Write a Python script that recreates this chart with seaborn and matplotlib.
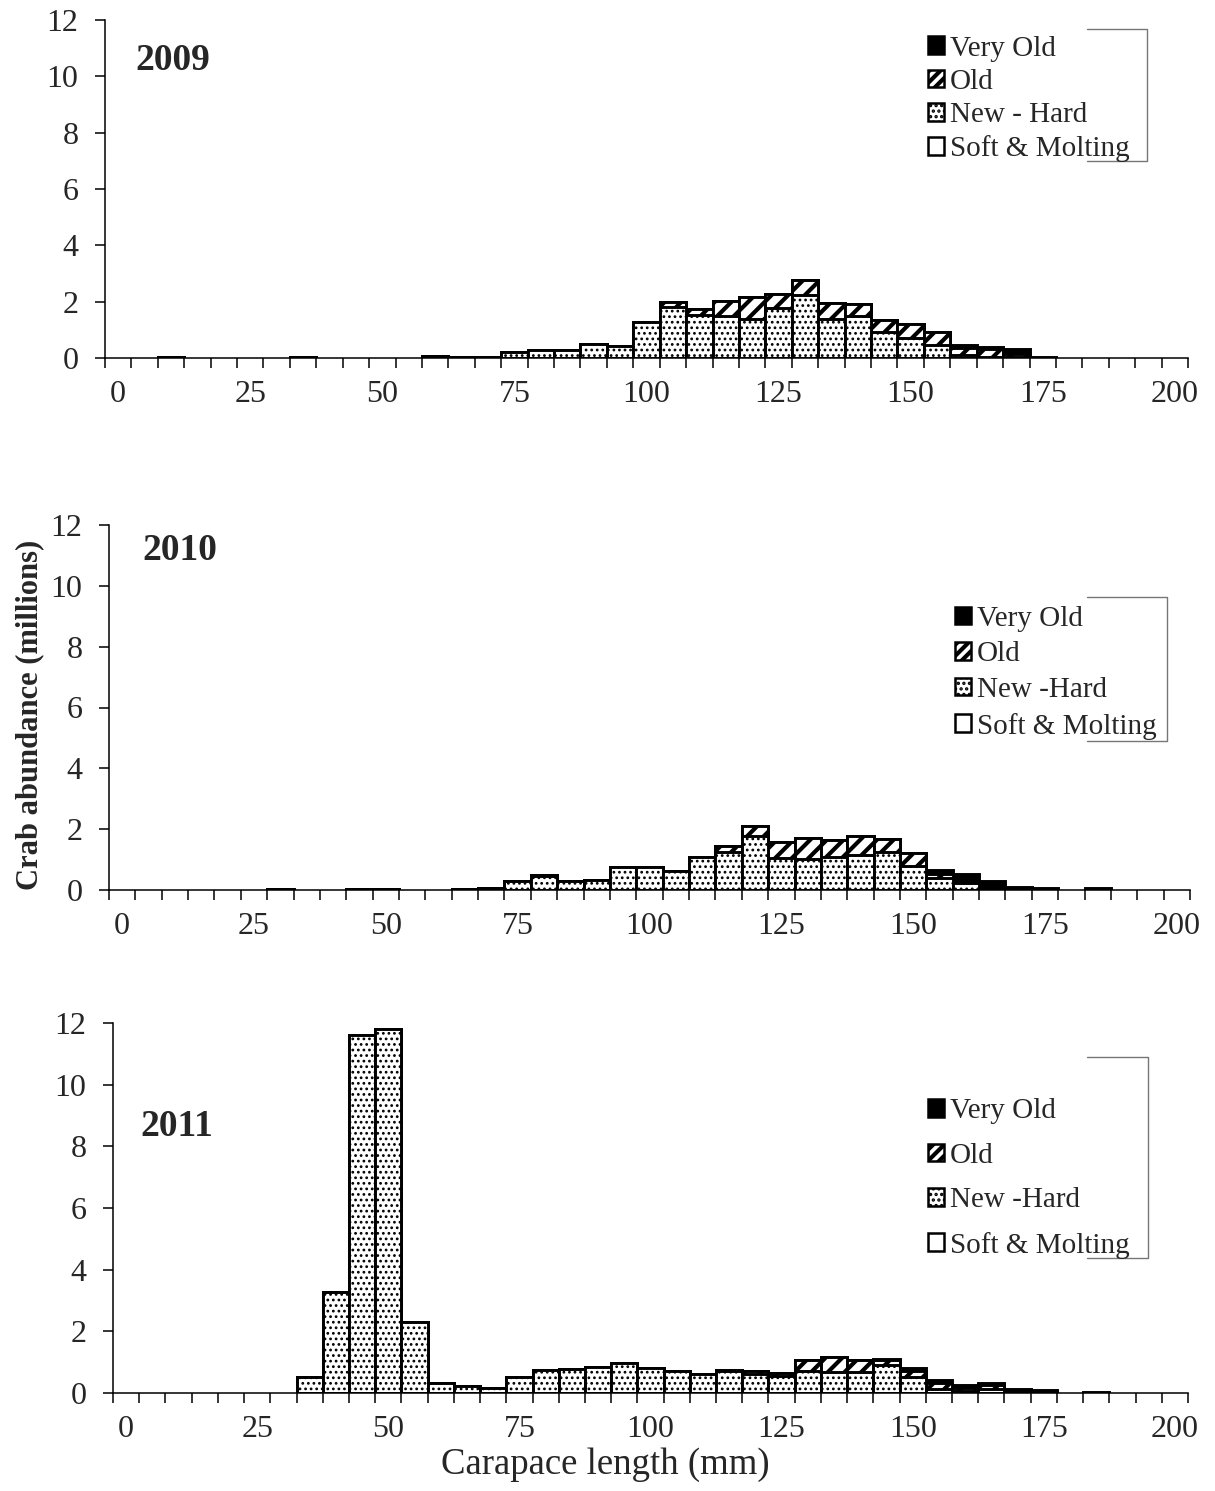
import numpy as np
import pandas as pd
import seaborn as sns
import matplotlib
import matplotlib.pyplot as plt
from matplotlib.patches import Patch

# ---------------- data (millions of crabs per 5 mm carapace-length bin) ----------------
length_bins = [0, 5, 10, 15, 20, 25, 30, 35, 40, 45,
               50, 55, 60, 65, 70, 75, 80, 85, 90, 95,
               100, 105, 110, 115, 120, 125, 130, 135, 140, 145,
               150, 155, 160, 165, 170, 175, 180, 185, 190, 195, 200]
tick_labels = ['0', '25', '50', '75', '100', '125', '150', '175', '200']
years = ['2009', '2010', '2011']
condition_labels_2009 = ['Very Old', 'Old', 'New - Hard', 'Soft & Molting']
condition_labels_other = ['Very Old', 'Old', 'New -Hard', 'Soft & Molting']

soft_2009 = [0, 0, 0, 0, 0, 0, 0, 0, 0, 0,
             0, 0, 0, 0, 0, 0, 0, 0, 0, 0,
             0, 0, 0, 0, 0, 0, 0, 0, 0, 0,
             0, 0, 0, 0, 0, 0, 0, 0, 0, 0, 0]
newhard_2009 = [0, 0, 0.03, 0, 0, 0, 0, 0.03, 0, 0,
                0, 0, 0.06, 0.03, 0.05, 0.23, 0.30, 0.30, 0.51, 0.43,
                1.27, 1.81, 1.51, 1.48, 1.40, 1.77, 2.22, 1.40, 1.48, 0.92,
                0.72, 0.45, 0.12, 0.05, 0.03, 0, 0, 0, 0, 0, 0]
old_2009 = [0, 0, 0, 0, 0, 0, 0, 0, 0, 0,
            0, 0, 0, 0, 0, 0, 0, 0, 0, 0,
            0, 0.18, 0.24, 0.54, 0.76, 0.51, 0.54, 0.56, 0.42, 0.42,
            0.47, 0.47, 0.25, 0.26, 0.12, 0, 0, 0, 0, 0, 0]
veryold_2009 = [0, 0, 0, 0, 0, 0, 0, 0, 0, 0,
                0, 0, 0, 0, 0, 0, 0, 0, 0, 0,
                0, 0, 0, 0, 0, 0, 0, 0, 0, 0,
                0, 0, 0.08, 0.08, 0.18, 0.05, 0, 0, 0, 0, 0]

soft_2010 = [0, 0, 0, 0, 0, 0, 0, 0, 0, 0,
             0, 0, 0, 0, 0, 0, 0, 0, 0, 0,
             0, 0, 0, 0, 0, 0, 0, 0, 0, 0,
             0, 0, 0, 0, 0, 0, 0, 0, 0, 0, 0]
newhard_2010 = [0, 0, 0, 0, 0, 0, 0.03, 0, 0, 0.03,
                0.04, 0, 0, 0.04, 0.08, 0.31, 0.45, 0.31, 0.32, 0.75,
                0.77, 0.64, 1.07, 1.26, 1.78, 1.06, 1.01, 1.07, 1.15, 1.26,
                0.79, 0.38, 0.24, 0.04, 0, 0, 0, 0, 0, 0, 0]
old_2010 = [0, 0, 0, 0, 0, 0, 0, 0, 0, 0,
            0, 0, 0, 0, 0, 0, 0.05, 0, 0, 0,
            0, 0, 0, 0.20, 0.34, 0.51, 0.71, 0.57, 0.64, 0.41,
            0.44, 0.16, 0.04, 0.07, 0, 0, 0, 0, 0, 0, 0]
veryold_2010 = [0, 0, 0, 0, 0, 0, 0, 0, 0, 0,
                0, 0, 0, 0, 0, 0, 0, 0, 0, 0,
                0, 0, 0, 0, 0, 0, 0, 0, 0, 0,
                0, 0.12, 0.25, 0.20, 0.11, 0.05, 0, 0.05, 0, 0, 0]

soft_2011 = [0, 0, 0, 0, 0, 0, 0, 0, 0, 0,
             0, 0, 0, 0, 0, 0, 0, 0, 0, 0,
             0, 0, 0, 0, 0, 0, 0, 0, 0, 0,
             0, 0, 0, 0, 0, 0, 0, 0, 0, 0, 0]
newhard_2011 = [0, 0, 0, 0, 0, 0, 0, 0.51, 3.26, 11.62,
                11.81, 2.29, 0.32, 0.23, 0.17, 0.52, 0.76, 0.79, 0.84, 0.97,
                0.81, 0.70, 0.63, 0.70, 0.61, 0.54, 0.70, 0.68, 0.68, 0.90,
                0.52, 0.14, 0.05, 0.12, 0, 0, 0, 0, 0, 0, 0]
old_2011 = [0, 0, 0, 0, 0, 0, 0, 0, 0, 0,
            0, 0, 0, 0, 0, 0, 0, 0, 0, 0,
            0, 0, 0, 0.04, 0.09, 0.11, 0.36, 0.49, 0.40, 0.17,
            0.20, 0.20, 0.10, 0.14, 0, 0, 0, 0, 0, 0, 0]
veryold_2011 = [0, 0, 0, 0, 0, 0, 0, 0, 0, 0,
                0, 0, 0, 0, 0, 0, 0, 0, 0, 0,
                0, 0, 0, 0, 0, 0, 0, 0, 0, 0.04,
                0.09, 0.09, 0.10, 0.08, 0.14, 0.09, 0, 0.04, 0, 0, 0]

# ---------------- style ----------------
sns.set_style('ticks')
plt.rcParams['font.family'] = ['Liberation Serif', 'DejaVu Serif']
plt.rcParams['hatch.color'] = 'black'

W, H = 1215, 1491
fig = plt.figure(figsize=(W / 100, H / 100), dpi=100)

# axes rectangles from the reference (pixels: left, right, top, bottom)
rects = [(105, 1188, 20, 358), (109, 1190, 525, 890), (113, 1188, 1023, 1393)]
year_pos = [(0.028, 0.88), (0.031, 0.929), (0.025, 0.719)]
legend_pos = [(0.760, 0.954, 0.25), (0.7826, 0.779, 0.33), (0.758, 0.796, 0.63)]
bracket = [(0.9067, 0.9621, 0.9734, 0.5828),
           (0.9047, 0.9787, 0.8027, 0.4082),
           (0.906, 0.9628, 0.908, 0.3649)]

data = [(soft_2009, newhard_2009, old_2009, veryold_2009),
        (soft_2010, newhard_2010, old_2010, veryold_2010),
        (soft_2011, newhard_2011, old_2011, veryold_2011)]

FS_TICK = 23
FS_LEG = 21
EDGE_LW = 2.1
HATCH_LW = {'//': 3.0, '...': 1.2, None: 1.0}


def set_hlw(artists, lw):
    for a in artists:
        if hasattr(a, 'set_hatch_linewidth'):
            a.set_hatch_linewidth(lw)


for p, (l, r, t, b) in enumerate(rects):
    ax = fig.add_axes([l / W, 1 - b / H, (r - l) / W, (b - t) / H])
    soft, nh, old, vo = data[p]
    df = pd.DataFrame({'cl': length_bins, 'soft': soft, 'nh': nh,
                       'old': old, 'vo': vo})
    df['c1'] = df['soft']
    df['c2'] = df['c1'] + df['nh']
    df['c3'] = df['c2'] + df['old']
    df['c4'] = df['c3'] + df['vo']
    layers = [('c4', 'black', None), ('c3', 'white', '//'),
              ('c2', 'white', '...'), ('c1', 'white', None)]
    for col, fc, hatch in layers:
        sub = df[df[col] > 0]
        if sub.empty:
            continue
        kw = dict(hatch=hatch) if hatch else {}
        n_before = len(ax.patches)
        with plt.rc_context({'hatch.linewidth': HATCH_LW[hatch]}):
            sns.barplot(data=sub, x='cl', y=col, order=length_bins, color=fc,
                        saturation=1, width=1, edgecolor='black',
                        linewidth=EDGE_LW, errorbar=None, ax=ax, **kw)
        set_hlw(ax.patches[n_before:], HATCH_LW[hatch])

    ax.set_xlim(-0.5, len(length_bins) - 0.5)
    ax.set_ylim(0, 12)
    ax.set_yticks(range(0, 13, 2))
    ax.set_xticks(range(0, len(length_bins), 5))
    ax.set_xticklabels(tick_labels)
    ax.set_xticks(np.arange(-0.5, len(length_bins), 1), minor=True)
    ax.tick_params(axis='x', which='major', length=0, pad=16, labelsize=FS_TICK)
    ax.tick_params(axis='x', which='minor', length=7, width=1.1,
                   direction='out', color='black')
    ax.tick_params(axis='y', length=7, width=1.1, pad=12, labelsize=FS_TICK,
                   color='black')
    ax.set_xlabel('')
    ax.set_ylabel('')
    sns.despine(ax=ax)
    for s in ('left', 'bottom'):
        ax.spines[s].set_linewidth(1.1)
        ax.spines[s].set_color('black')
    ax.set_facecolor('white')

    ax.text(year_pos[p][0], year_pos[p][1], years[p], transform=ax.transAxes,
            fontsize=27, fontweight='bold', ha='left', va='center')

    labels = condition_labels_2009 if p == 0 else condition_labels_other
    with plt.rc_context({'hatch.linewidth': 3.0}):
        h_old = Patch(facecolor='white', edgecolor='black', hatch='///', linewidth=1.8)
    with plt.rc_context({'hatch.linewidth': 1.6}):
        h_new = Patch(facecolor='white', edgecolor='black', hatch='...', linewidth=1.8)
    set_hlw([h_old], 3.0)
    set_hlw([h_new], 1.6)
    handles = [Patch(facecolor='black', edgecolor='black', linewidth=1.8),
               h_old, h_new,
               Patch(facecolor='white', edgecolor='black', linewidth=1.8)]
    lx, ly, lsp = legend_pos[p]
    leg = ax.legend(handles, labels, loc='upper left', bbox_to_anchor=(lx, ly),
                    frameon=False, fontsize=FS_LEG, handlelength=0.55,
                    handleheight=0.55, handletextpad=0.2, labelspacing=lsp,
                    borderpad=0, borderaxespad=0)
    for hp, lw in zip(leg.get_patches(), [1.0, 3.0, 1.6, 1.0]):
        set_hlw([hp], lw)

    x0, x1, y0, y1 = bracket[p]
    ax.plot([x0, x1, x1, x0], [y0, y0, y1, y1], transform=ax.transAxes,
            color='#777777', lw=1.0, clip_on=False)

fig.text(30 / W, 1 - 715 / H, 'Crab abundance (millions)', rotation=90,
         fontsize=22, fontweight='bold', ha='center', va='center')
fig.text(605 / W, 1 - 1465 / H, 'Carapace length (mm)', fontsize=26.5,
         ha='center', va='center')

fig.savefig('out.png', dpi=100, facecolor='white')
